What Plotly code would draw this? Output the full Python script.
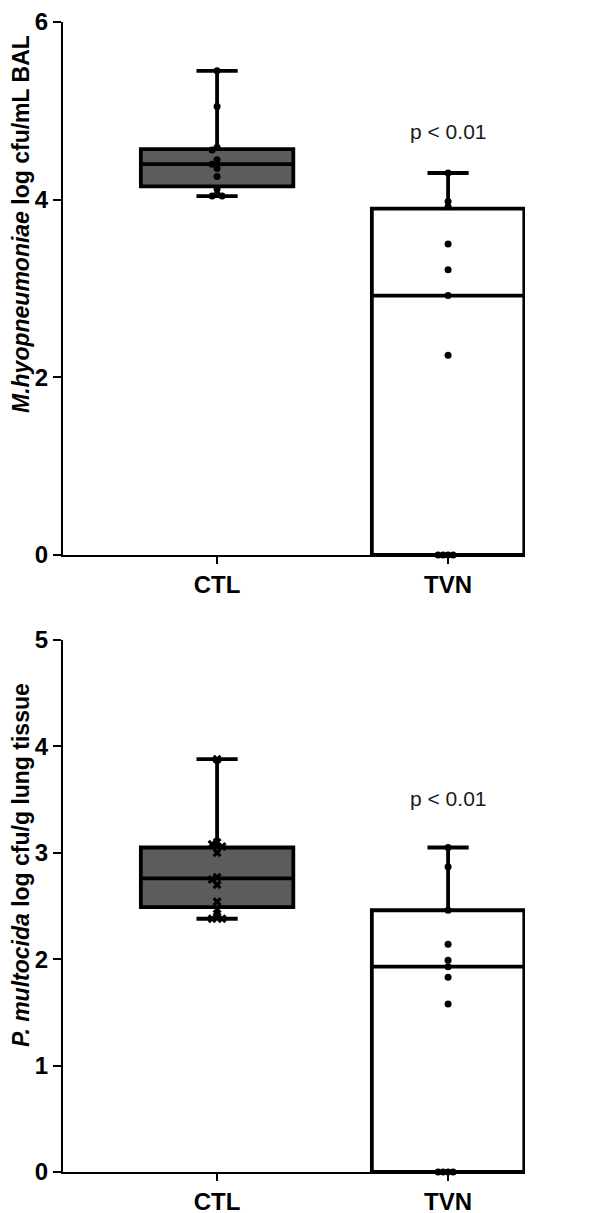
import plotly.graph_objects as go

# ---------------- data ----------------
categories = ["CTL", "TVN"]

# Panel A: M. hyopneumoniae (log cfu/mL BAL)
a_title = "<b><i>M.hyopneumoniae</i> log cfu/mL BAL</b>"
a_ctl_points = [5.45, 5.05, 4.59, 4.56, 4.45, 4.40, 4.35, 4.26, 4.12, 4.06, 4.04, 4.04]
a_tvn_points = [4.30, 3.98, 3.92, 3.50, 3.21, 2.92, 2.25, 0.0, 0.0, 0.0, 0.0]
a_q1 = [4.15, 0.0]
a_median = [4.40, 2.92]
a_q3 = [4.57, 3.90]
a_low = [4.04, 0.0]
a_high = [5.45, 4.30]
a_ticks = [0, 2, 4, 6]
a_pvalue_y = 4.77

# Panel B: P. multocida (log cfu/g lung tissue)
b_title = "<b><i>P. multocida</i> log cfu/g lung tissue</b>"
b_ctl_points = [3.88, 3.10, 3.08, 3.06, 3.00, 2.77, 2.75, 2.70, 2.54, 2.47, 2.40, 2.38, 2.38]
b_tvn_points = [3.05, 2.87, 2.46, 2.14, 1.99, 1.93, 1.83, 1.58, 0.0, 0.0, 0.0, 0.0]
b_q1 = [2.49, 0.0]
b_median = [2.76, 1.93]
b_q3 = [3.05, 2.46]
b_low = [2.38, 0.0]
b_high = [3.88, 3.05]
b_ticks = [0, 1, 2, 3, 4, 5]
b_pvalue_y = 3.51

# ---------------- layout constants ----------------
W, H = 598, 1213
ML, MR, MT, MB = 55, 81, 14, 49
plot_w = W - ML - MR
plot_h_total = H - MT - MB
top_px = (14, 547)      # pixel rows of top panel (top, bottom)
bot_px = (632, 1164)
XR = [-0.667, 1.333]
px_per_x = plot_w / (XR[1] - XR[0])

def dom(px):
    t, b = px
    return [(H - MB - b) / plot_h_total, (H - MB - t) / plot_h_total]

def paper_x(px):
    return (px - ML) / plot_w

def paper_y(py):
    return (H - MB - py) / plot_h_total

def swarm(values, px_per_y, step=5.0, mind=5.0):
    placed = []
    order = sorted(range(len(values)), key=lambda i: -values[i])
    res = [0.0] * len(values)
    for i in order:
        y = values[i] * px_per_y
        for k in range(0, 40):
            slot = 0 if k == 0 else ((k + 1) // 2) * (-1 if k % 2 else 1)
            x = slot * step
            if all((x - px) ** 2 + (y - py) ** 2 >= mind ** 2 for px, py in placed):
                break
        placed.append((x, y))
        res[i] = x / px_per_x
    return res

fig = go.Figure()

FILL = ["#5c5c5c", "#ffffff"]
FONT = "Liberation Sans, Arial, sans-serif"

def add_panel(xa, ya, q1, med, q3, lo, hi, pts_list, symbol_list, yr, px):
    px_per_y = (px[1] - px[0]) / (yr[1] - yr[0])
    for i, cat in enumerate(categories):
        fig.add_trace(go.Box(
            x=[i], q1=[q1[i]], median=[med[i]], q3=[q3[i]],
            lowerfence=[lo[i]], upperfence=[hi[i]],
            width=0.66, whiskerwidth=0.27,
            fillcolor=FILL[i], line=dict(color="black", width=3.8),
            boxpoints=False, xaxis=xa, yaxis=ya, showlegend=False,
            hoverinfo="skip",
        ))
    for i, pts in enumerate(pts_list):
        offs = swarm(pts, px_per_y)
        fig.add_trace(go.Scatter(
            x=[i + o for o in offs], y=pts, mode="markers",
            marker=dict(color="black", size=7 if symbol_list[i] == "circle" else 8,
                        symbol=symbol_list[i], line=dict(width=0)),
            xaxis=xa, yaxis=ya, showlegend=False, cliponaxis=False,
        ))

add_panel("x", "y", a_q1, a_median, a_q3, a_low, a_high,
          [a_ctl_points, a_tvn_points], ["circle", "circle"], [0, 6], top_px)
add_panel("x2", "y2", b_q1, b_median, b_q3, b_low, b_high,
          [b_ctl_points, b_tvn_points], ["x", "circle"], [0, 5], bot_px)

axis_common = dict(showline=True, linecolor="black", linewidth=2, ticks="outside",
                   tickwidth=2, tickcolor="black", showgrid=False, zeroline=False,
                   ticklabeloverflow="allow")

xcommon = dict(axis_common, range=XR, tickvals=[0, 1], ticktext=categories, ticklen=7,
               tickfont=dict(family=FONT, size=24, color="black", weight="bold"))
ycommon = dict(axis_common, ticklen=8,
               tickfont=dict(family=FONT, size=24, color="black", weight="bold"))
TITLE_FONT = dict(family=FONT, size=23, color="black")
PFONT = dict(family=FONT, size=21, color="#1a1a1a")

fig.update_layout(
    xaxis=dict(xcommon, anchor="y"),
    xaxis2=dict(xcommon, anchor="y2"),
    yaxis=dict(ycommon, domain=dom(top_px), range=[0, 6], tickvals=a_ticks, anchor="x"),
    yaxis2=dict(ycommon, domain=dom(bot_px), range=[0, 5], tickvals=b_ticks, anchor="x2"),
    width=W, height=H,
    margin=dict(l=ML, r=MR, t=MT, b=MB, autoexpand=False),
    paper_bgcolor="white", plot_bgcolor="white",
    annotations=[
        dict(x=1, y=a_pvalue_y, xref="x", yref="y", text="p < 0.01", showarrow=False,
             font=PFONT),
        dict(x=1, y=b_pvalue_y, xref="x2", yref="y2", text="p < 0.01", showarrow=False,
             font=PFONT),
        dict(x=paper_x(13), y=paper_y(216), xref="paper", yref="paper", text=a_title,
             textangle=-90, showarrow=False, xanchor="center", yanchor="middle",
             font=TITLE_FONT),
        dict(x=paper_x(13), y=paper_y(857), xref="paper", yref="paper", text=b_title,
             textangle=-90, showarrow=False, xanchor="center", yanchor="middle",
             font=TITLE_FONT),
    ],
)

fig.write_html("out.html")
